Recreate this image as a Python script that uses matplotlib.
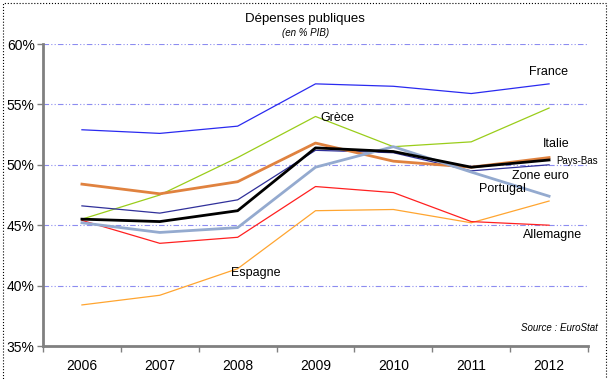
import matplotlib
matplotlib.use("Agg")
import matplotlib.pyplot as plt
from matplotlib.patches import Rectangle
from matplotlib.ticker import FuncFormatter, FixedLocator

plt.rcParams['font.family'] = ['Liberation Sans', 'DejaVu Sans']

years = ['2006', '2007', '2008', '2009', '2010', '2011', '2012']
france = [52.9, 52.6, 53.2, 56.7, 56.5, 55.9, 56.7]
grece = [45.5, 47.5, 50.6, 54.0, 51.5, 51.9, 54.7]
italie = [48.4, 47.6, 48.6, 51.8, 50.3, 49.8, 50.6]
zone_euro = [46.6, 46.0, 47.1, 51.2, 51.0, 49.5, 50.0]
pays_bas = [45.5, 45.3, 46.2, 51.4, 51.1, 49.8, 50.4]
portugal = [45.2, 44.4, 44.8, 49.8, 51.5, 49.4, 47.4]
allemagne = [45.4, 43.5, 44.0, 48.2, 47.7, 45.3, 45.0]
espagne = [38.4, 39.2, 41.4, 46.2, 46.3, 45.2, 47.0]

W, H = 613, 379
fig = plt.figure(figsize=(W / 100, H / 100), dpi=100)
ax = fig.add_axes([43 / W, (H - 346) / H, (588 - 43) / W, (346 - 44) / H])

x = range(len(years))
ax.plot(x, espagne, color='#FFA530', lw=0.9)
ax.plot(x, allemagne, color='#FF2020', lw=0.9)
ax.plot(x, grece, color='#9ACD1A', lw=0.9)
ax.plot(x, france, color='#2A2AF0', lw=0.9)
ax.plot(x, zone_euro, color='#30309A', lw=0.9)
ax.plot(x, italie, color='#E0823F', lw=2.0)
ax.plot(x, portugal, color='#94AACF', lw=2.0)
ax.plot(x, pays_bas, color='black', lw=2.0)

ax.set_xlim(-0.5, 6.5)
ax.set_ylim(35, 60)
ax.set_yticks([35, 40, 45, 50, 55, 60])
ax.yaxis.set_major_formatter(FuncFormatter(lambda v, p: '%d%%' % v))
ax.set_xticks(list(x))
ax.set_xticklabels(years)
ax.xaxis.set_minor_locator(FixedLocator([i - 0.5 for i in range(8)]))
ax.tick_params(axis='x', which='major', length=0, labelsize=10, pad=9)
ax.tick_params(axis='x', which='minor', length=4, width=1, color='#808080')
ax.tick_params(axis='y', length=4, width=1, color='#808080', labelsize=10, pad=2)

for v in [40, 45, 50, 55, 60]:
    ax.axhline(v, color='#8C8CF0', lw=0.8, dashes=(5, 2, 1, 2, 1, 2), zorder=0)

for s in ['top', 'right']:
    ax.spines[s].set_visible(False)
for s in ['left', 'bottom']:
    ax.spines[s].set_color('#808080')
    ax.spines[s].set_linewidth(2)

def lab(px, py, txt, size=9):
    fig.text(px / W, 1 - py / H, txt, fontsize=size, ha='left', va='center')

lab(529, 72, 'France')
lab(320, 118, 'Grèce')
lab(543, 144, 'Italie')
lab(556, 161, 'Pays-Bas', 7)
lab(512, 176, 'Zone euro')
lab(479, 189, 'Portugal')
lab(523, 235, 'Allemagne')
lab(231, 273, 'Espagne')

fig.text(305 / W, 1 - 19 / H, 'Dépenses publiques', fontsize=9.5, ha='center', va='center')
fig.text(306 / W, 1 - 33 / H, '(en % PIB)', fontsize=7, style='italic', ha='center', va='center')
fig.text(598 / W, 1 - 328 / H, 'Source : EuroStat', fontsize=7, style='italic', ha='right', va='center')

fig.patches.append(Rectangle((3 / W, -0.02), 603 / W, 1.02 - 3 / H, transform=fig.transFigure,
                             fill=False, edgecolor='black', lw=0.8, linestyle=':'))

fig.savefig('out.png', dpi=100)
